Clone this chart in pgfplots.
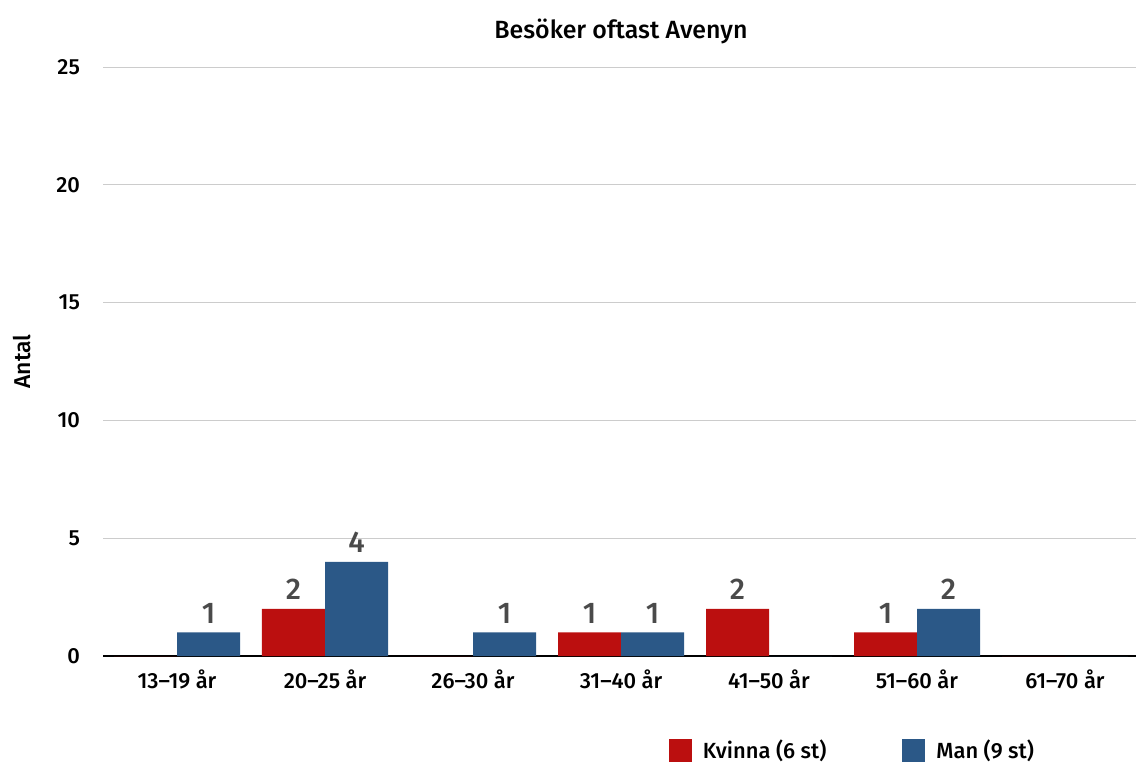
\documentclass[border=0pt]{standalone}
\usepackage{pgfplots}
\pgfplotsset{compat=1.18}
\usepackage{fontspec}
\setmainfont{Fira Sans}[UprightFont={* Medium}]
\definecolor{kred}{HTML}{BB0F0F}
\definecolor{mblue}{HTML}{2B5887}
\definecolor{lblgray}{HTML}{4A4A4A}
\begin{document}
\begin{tikzpicture}
\begin{axis}[
  at={(0,0)}, anchor=south west,
  scale only axis,
  width=518bp, height=294.5bp,
  xmin=-0.5, xmax=6.5,
  ymin=0, ymax=25,
  ytick={0,5,10,15,20,25},
  xtick=data,
  xticklabels={13–19 år,20–25 år,26–30 år,31–40 år,41–50 år,51–60 år,61–70 år},
  /pgf/number format/assume math mode=true,
  ticklabel style={font=\fontsize{11}{13}\selectfont, black},
  yticklabel style={xshift=-8bp},
  xticklabel style={yshift=-3.5bp},
  major tick length=0pt,
  axis x line=bottom, axis y line=left,
  x axis line style={black, line width=1.1bp, -},
  y axis line style={draw=none},
  ymajorgrids,
  grid style={draw=black!20, line width=0.5bp},
  ylabel={Antal},
  ylabel style={font=\fontsize{11.5}{13}\selectfont, at={(axis description cs:-0.078,0.5)}, anchor=center},
  title={Besöker oftast Avenyn},
  title style={font=\fontsize{12.5}{14}\selectfont, yshift=2bp},
  ybar=0pt, bar width=31.5bp,
  point meta=explicit symbolic,
  nodes near coords,
  nodes near coords style={font=\fontsize{15}{17}\selectfont, lblgray, anchor=south, yshift=1bp},
  legend columns=2,
  legend style={draw=none, fill=none, at={(axis description cs:0.54,-0.16)}, anchor=west,
    font=\fontsize{11}{13}\selectfont,
    /tikz/every odd column/.append style={column sep=3.5bp},
    /tikz/every even column/.append style={column sep=36bp}},
  legend image code/.code={\fill[#1] (0bp,-5.75bp) rectangle (11.5bp,5.75bp);},
]
\addplot[fill=kred, draw=none] coordinates {(0,0) [] (1,2) [2] (2,0) [] (3,1) [1] (4,2) [2] (5,1) [1] (6,0) []};
\addplot[fill=mblue, draw=none] coordinates {(0,1) [1] (1,4) [4] (2,1) [1] (3,1) [1] (4,0) [] (5,2) [2] (6,0) []};
\legend{Kvinna (6 st),Man (9 st)}
\end{axis}
\pgfresetboundingbox
\path (-51.5bp,-54bp) rectangle (516.5bp,328bp);
\end{tikzpicture}
\end{document}
